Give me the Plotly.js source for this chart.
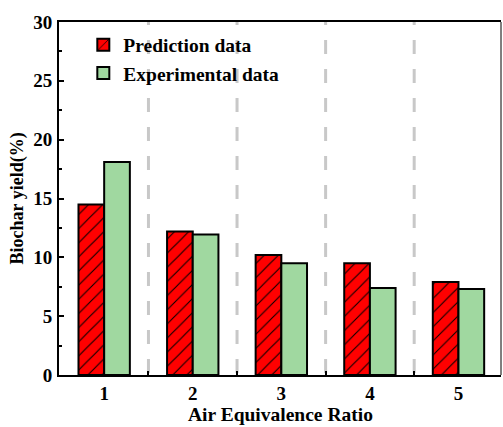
<!DOCTYPE html>
<html>
<head>
<meta charset="utf-8">
<script src="https://cdn.plot.ly/plotly-3.0.1.min.js"></script>
<style>html,body{margin:0;padding:0;background:#fff;}#chart{width:503px;height:427px;}</style>
</head>
<body>
<div id="chart"></div>
<script>
const categories = [1, 2, 3, 4, 5];
const tickLabels = ['1', '2', '3', '4', '5'];
const predictionData = [14.5, 12.2, 10.2, 9.5, 7.9];
const experimentalData = [18.1, 11.95, 9.5, 7.4, 7.3];
const dividers = [1.5, 2.5, 3.5, 4.5];
const xTitle = 'Air Equivalence Ratio';
const yTitle = 'Biochar yield(%)';

const font = 'Liberation Serif';

const traces = [
  {
    type: 'bar', name: 'Prediction data', x: categories, y: predictionData,
    marker: {
      color: '#ff0000',
      line: {color: '#000', width: 2},
      pattern: {shape: '/', fgcolor: '#000', bgcolor: '#ff0000', size: 10, solidity: 0.1}
    }
  },
  {
    type: 'bar', name: 'Experimental data', x: categories, y: experimentalData,
    marker: {color: '#a0d8a0', line: {color: '#000', width: 2}}
  }
];

const shapes = dividers.map(d => ({
  type: 'line', xref: 'x', yref: 'y', x0: d, x1: d, y0: 0.17, y1: 30,
  line: {color: '#c8c8c8', width: 3, dash: '14px,15px'}, layer: 'below'
}));
shapes.push({type: 'line', xref: 'paper', yref: 'paper', x0: 1, x1: 1, y0: 0, y1: 1,
  line: {color: '#000', width: 1}});

const layout = {
  width: 503, height: 427,
  margin: {l: 59, r: 2, t: 22, b: 52},
  paper_bgcolor: '#fff', plot_bgcolor: '#fff',
  barmode: 'group', bargap: 0.42, bargroupgap: 0,
  font: {family: font, color: '#000'},
  showlegend: true,
  legend: {x: 0.055, y: 0.99, xanchor: 'left', yanchor: 'top', bgcolor: 'rgba(0,0,0,0)',
    font: {family: font, size: 19.5, color: '#000', weight: 'bold'}, tracegroupgap: 0},
  xaxis: {
    range: [0.49, 5.48], tickvals: categories, ticktext: tickLabels,
    ticks: '', showgrid: false, zeroline: false,
    showline: true, linecolor: '#000', linewidth: 2, mirror: true,
    tickfont: {family: font, size: 19, color: '#000', weight: 'bold'},
    minor: {tickmode: 'array', tickvals: dividers, ticks: 'inside', ticklen: 4, tickwidth: 2, tickcolor: '#000', showgrid: false},
    fixedrange: true
  },
  yaxis: {
    range: [0, 30], tickmode: 'linear', tick0: 0, dtick: 5,
    ticks: 'inside', ticklen: 5, tickwidth: 2, tickcolor: '#000',
    minor: {dtick: 2.5, ticks: 'inside', ticklen: 3, tickwidth: 2, tickcolor: '#000', showgrid: false},
    showgrid: false, zeroline: false, showline: true, linecolor: '#000', linewidth: 2,
    tickfont: {family: font, size: 19, color: '#000', weight: 'bold'},
    ticklabelstandoff: 1,
    fixedrange: true
  },
  annotations: [
    {text: xTitle, xref: 'paper', yref: 'paper', x: 0.5, y: -0.113, xanchor: 'center', yanchor: 'middle',
      showarrow: false, font: {family: font, size: 19.5, color: '#000', weight: 'bold'}},
    {text: yTitle, xref: 'paper', yref: 'paper', x: -0.093, y: 0.5, xanchor: 'center', yanchor: 'middle',
      textangle: -90, showarrow: false, font: {family: font, size: 18, color: '#000', weight: 'bold'}}
  ],
  shapes: shapes
};

Plotly.newPlot('chart', traces, layout, {displayModeBar: false, staticPlot: true});
</script>
</body>
</html>
